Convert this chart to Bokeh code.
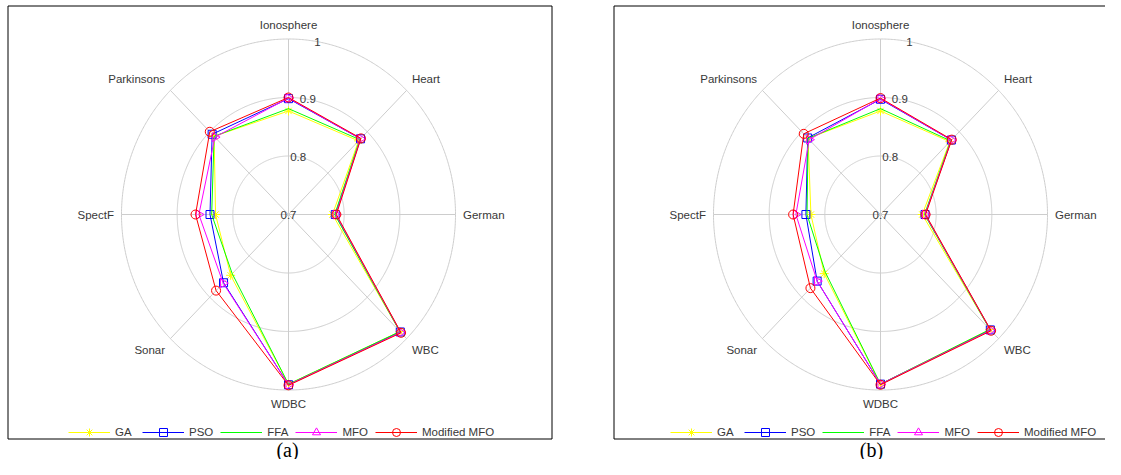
import numpy as np
from bokeh.plotting import figure
from bokeh.models import ColumnDataSource, Range1d, Legend, LegendItem
from bokeh.layouts import row
from bokeh.embed import file_html
from bokeh.resources import INLINE
from bokeh.core.properties import value

# ---------------- data ----------------
categories = ["Ionosphere", "Heart", "German", "WBC", "WDBC", "Sonar", "SpectF", "Parkinsons"]
algorithms = ["GA", "PSO", "FFA", "MFO", "Modified MFO"]

# panel (a)
ga_a   = [0.877, 0.878, 0.779, 0.983, 0.990, 0.847, 0.831, 0.889]
pso_a  = [0.898, 0.883, 0.784, 0.984, 0.991, 0.865, 0.841, 0.894]
ffa_a  = [0.881, 0.881, 0.783, 0.983, 0.990, 0.843, 0.838, 0.889]
mfo_a  = [0.899, 0.883, 0.785, 0.985, 0.991, 0.866, 0.861, 0.887]
mmfo_a = [0.900, 0.884, 0.786, 0.986, 0.992, 0.884, 0.867, 0.900]

# panel (b)
ga_b   = [0.877, 0.876, 0.775, 0.978, 0.990, 0.843, 0.825, 0.884]
pso_b  = [0.897, 0.880, 0.780, 0.979, 0.990, 0.861, 0.834, 0.885]
ffa_b  = [0.881, 0.878, 0.779, 0.978, 0.990, 0.840, 0.832, 0.884]
mfo_b  = [0.898, 0.880, 0.780, 0.980, 0.990, 0.861, 0.852, 0.881]
mmfo_b = [0.899, 0.881, 0.781, 0.981, 0.991, 0.878, 0.857, 0.895]

r_ticks = [0.7, 0.8, 0.9, 1.0]
r_tick_labels = ["0.7", "0.8", "0.9", "1"]
captions = ["(a)", "(b)"]

# ---------------- styles ----------------
R_MIN, R_MAX = 0.7, 1.0
colors = ["#ffff00", "#0000ff", "#00ff00", "#ff00ff", "#ff0000"]
markers = ["asterisk", "square", None, "triangle", "circle"]
marker_angles = [0.0, 0.0, 0.0, -np.pi / 2, 0.0]
marker_sizes = [9, 8, 8, 9, 9]
GRID_COLOR = "#cdcdcd"
TEXT_COLOR = "#383838"
FONT = "Liberation Sans"
FS = "11.5px"

# picture-pixel layout (origin = top-left of the picture)
FIG_T = 0
FIG_H = 459
RX, RY = 167.0, 175.5  # pixels per unit radius (horizontal, vertical)
CY = 214
LEG_H = 20

# angles: Ionosphere at top, clockwise
n = len(categories)
theta = [np.pi / 2 - 2 * np.pi * i / n for i in range(n)]


def rad(v):
    return (np.asarray(v, dtype=float) - R_MIN) / (R_MAX - R_MIN)


def make_panel(series, cx, fig_left, fig_right, box_left, box_right, box_top, box_bottom,
               caption, cap_px, cap_py, legend_px, legend_cy):
    w = fig_right - fig_left
    px2x = lambda px: (px - cx) / RX
    py2y = lambda py: (CY - py) / RY
    p = figure(width=w, height=FIG_H,
               x_range=Range1d(px2x(fig_left), px2x(fig_right)),
               y_range=Range1d(py2y(FIG_T + FIG_H), py2y(FIG_T)),
               output_backend="svg", toolbar_location=None,
               x_axis_location=None, y_axis_location=None,
               min_border=0, outline_line_color=None,
               background_fill_color="white", border_fill_color="white")
    p.xgrid.visible = False
    p.ygrid.visible = False

    # box border
    if box_right is None:
        bx = [px2x(fig_right + 5), px2x(box_left), px2x(box_left), px2x(fig_right + 5)]
        by = [py2y(box_top), py2y(box_top), py2y(box_bottom), py2y(box_bottom)]
    else:
        bx = [px2x(box_left), px2x(box_right), px2x(box_right), px2x(box_left), px2x(box_left)]
        by = [py2y(box_top), py2y(box_top), py2y(box_bottom), py2y(box_bottom), py2y(box_top)]
    p.line(bx, by, line_color="black", line_width=1)

    # rings
    t = np.linspace(0, 2 * np.pi, 721)
    for rv in r_ticks[1:]:
        rr = rad(rv)
        p.line(rr * np.cos(t), rr * np.sin(t), line_color=GRID_COLOR, line_width=1)
    # spokes
    p.multi_line([[0, np.cos(a)] for a in theta], [[0, np.sin(a)] for a in theta],
                 line_color=GRID_COLOR, line_width=1)

    # radial tick labels at 80 degrees
    ta = np.deg2rad(80)
    rt = rad(r_ticks)
    p.text(x=list(rt * np.cos(ta)), y=list(rt * np.sin(ta)), text=r_tick_labels,
           text_font=value(FONT), text_font_size=value(FS), text_color=TEXT_COLOR,
           text_align="center", text_baseline="middle")

    # category labels
    R = 1.045
    lx, ly, al, bl = [], [], [], []
    for a in theta:
        c, s = np.cos(a), np.sin(a)
        lx.append(R * c)
        ly.append(R * s)
        al.append("left" if c > 0.1 else ("right" if c < -0.1 else "center"))
        bl.append("bottom" if s > 0.1 else ("top" if s < -0.1 else "middle"))
    src = ColumnDataSource(dict(x=lx, y=ly, text=categories, align=al, base=bl))
    p.text(x="x", y="y", text="text", source=src, text_align="align", text_baseline="base",
           text_font=value(FONT), text_font_size=value(FS), text_color=TEXT_COLOR)

    # series
    items = []
    for name, vals, col, mk, ang, ms in zip(algorithms, series, colors, markers, marker_angles, marker_sizes):
        rr = rad(vals)
        xs = list(rr * np.cos(theta))
        ys = list(rr * np.sin(theta))
        rl = p.line(xs + [xs[0]], ys + [ys[0]], line_color=col, line_width=1)
        rends = [rl]
        if mk is not None:
            rs = p.scatter(xs, ys, marker=mk, angle=ang, size=ms, line_color=col,
                           fill_color=None, line_width=1)
            rends.append(rs)
        items.append(LegendItem(label=name, renderers=rends))

    legend = Legend(items=items, orientation="horizontal",
                    location=(legend_px - fig_left, (FIG_T + FIG_H - legend_cy) - LEG_H / 2),
                    glyph_width=42, glyph_height=LEG_H, label_height=LEG_H,
                    label_standoff=5, spacing=7, padding=0, margin=0,
                    border_line_color=None, background_fill_alpha=0,
                    label_text_font=FONT, label_text_font_size=FS,
                    label_text_color=TEXT_COLOR)
    p.add_layout(legend, "center")

    # caption
    p.text(x=[px2x(cap_px)], y=[py2y(cap_py)], text=[caption],
           text_font=value("Liberation Serif"), text_font_size=value("20px"),
           text_color="black", text_align="center", text_baseline="middle")
    return p


pa = make_panel([ga_a, pso_a, ffa_a, mfo_a, mmfo_a], cx=288, fig_left=0, fig_right=600,
                box_left=7.5, box_right=551.5, box_top=5.5, box_bottom=438.5,
                caption=captions[0], cap_px=287, cap_py=449, legend_px=68, legend_cy=431.5)
pb = make_panel([ga_b, pso_b, ffa_b, mfo_b, mmfo_b], cx=880, fig_left=600, fig_right=1105,
                box_left=613.5, box_right=None, box_top=5.5, box_bottom=438.5,
                caption=captions[1], cap_px=871, cap_py=449, legend_px=670, legend_cy=431.5)

layout = row(pa, pb)
open("out.html", "w").write(file_html(layout, INLINE))
